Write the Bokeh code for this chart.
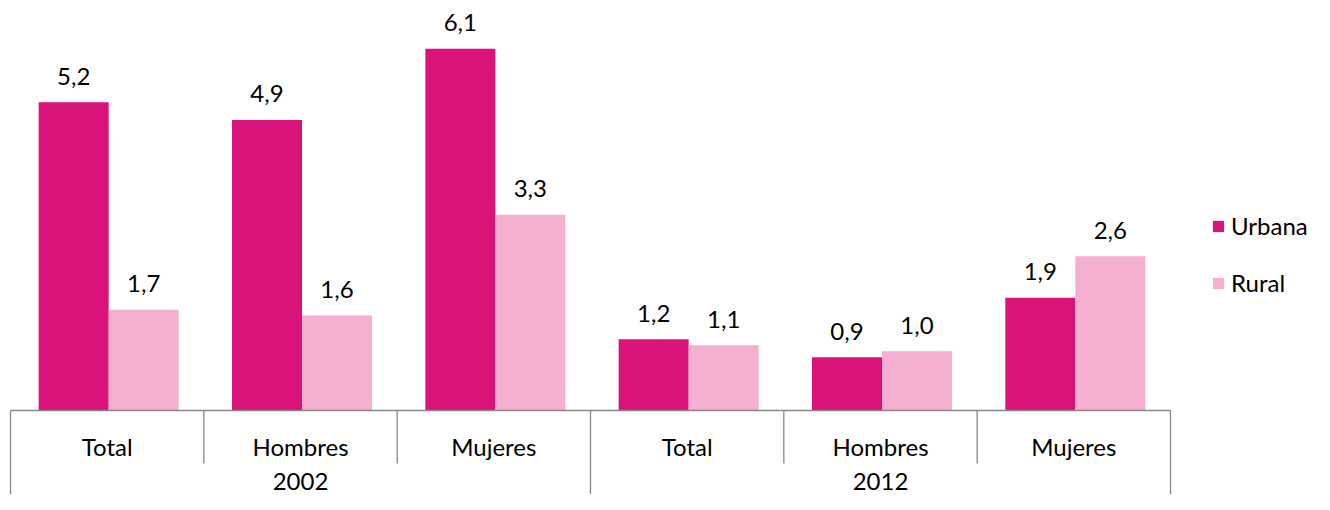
import numpy as np
from bokeh.plotting import figure
from bokeh.models import Legend, LegendItem
from bokeh.core.properties import value
from bokeh.embed import file_html
from bokeh.resources import INLINE

# ---- data ----
years = ["2002", "2012"]
groups = ["Total", "Hombres", "Mujeres"]
series = ["Urbana", "Rural"]
urbana = [5.2, 4.9, 6.1, 1.2, 0.9, 1.9]
rural = [1.7, 1.6, 3.3, 1.1, 1.0, 2.6]

# ---- style ----
colors = ["#D9137A", "#F5AFD0"]
FONT = "Lato"
FS = "24px"
GRAY = "#898989"

W, H = 1314, 494
XU = 1160 / 6.0      # px per category
YU = 59.3            # px per unit value
LEFT = 10            # frame px of category boundary 0
ZERO = 410           # frame px (from top) of value 0

x_start, x_end = -LEFT / XU, (W - LEFT) / XU
y_start, y_end = -(H - ZERO) / YU, ZERO / YU

p = figure(width=W, height=H, output_backend="svg", toolbar_location=None,
           x_range=(x_start, x_end), y_range=(y_start, y_end),
           x_axis_type=None, y_axis_type=None, min_border=0)
p.outline_line_color = None
p.grid.visible = False

n = len(urbana)
idx = np.arange(n)
bw = 70 / XU
xu = idx + 0.5 - bw / 2 + 1.5 / XU
xr = idx + 0.5 + bw / 2 + 1.5 / XU

r_u = p.vbar(x=xu, top=urbana, bottom=0, width=bw, fill_color=colors[0], line_color=None)
r_r = p.vbar(x=xr, top=rural, bottom=0, width=bw, fill_color=colors[1], line_color=None)

def fmt(v):
    return f"{v:.1f}".replace(".", ",")

lab_off = 26 / YU
for xs, vals in ((xu, urbana), (xr, rural)):
    p.text(x=xs, y=np.array(vals) + lab_off, text=[fmt(v) for v in vals],
           text_align="center", text_baseline="middle",
           text_font=value(FONT), text_font_size=FS, text_color="#000000")

# axis line and separators
n_year = len(years)
n_grp = len(groups)
p.segment(x0=[0], y0=[0], x1=[n], y1=[0], line_color=GRAY, line_width=1.3)
inner = [i for i in range(1, n) if i % n_grp != 0]
outer = [i for i in range(0, n + 1) if i % n_grp == 0]
p.segment(x0=inner, y0=[0] * len(inner), x1=inner, y1=[-53 / YU] * len(inner),
          line_color=GRAY, line_width=1.3)
p.segment(x0=outer, y0=[0] * len(outer), x1=outer, y1=[y_start - 1] * len(outer),
          line_color=GRAY, line_width=1.3)

# category labels
p.text(x=idx + 0.5, y=[-36 / YU] * n, text=groups * n_year,
       text_align="center", text_baseline="middle",
       text_font=value(FONT), text_font_size=FS, text_color="#000000")
p.text(x=np.arange(n_year) * n_grp + n_grp / 2, y=[-71 / YU] * n_year, text=years,
       text_align="center", text_baseline="middle",
       text_font=value(FONT), text_font_size=FS, text_color="#000000")

legend = Legend(items=[LegendItem(label=series[0], renderers=[r_u]),
                       LegendItem(label=series[1], renderers=[r_r])],
                location=(1211, 197), orientation="vertical",
                glyph_width=14, glyph_height=14, label_standoff=6,
                label_height=20, spacing=28, padding=0, margin=0,
                border_line_color=None, background_fill_alpha=0,
                label_text_font=FONT, label_text_font_size=FS,
                label_text_color="#000000")
p.add_layout(legend)

open("out.html", "w").write(file_html(p, INLINE))
